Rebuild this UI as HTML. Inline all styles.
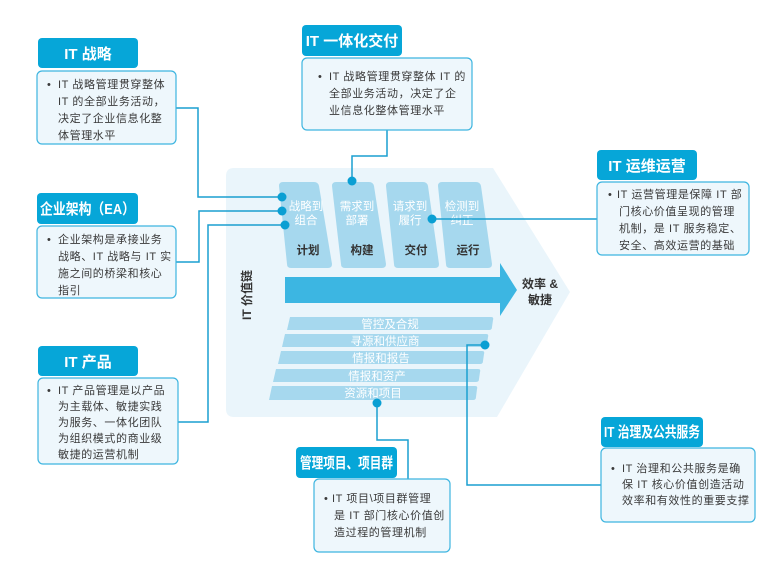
<!DOCTYPE html>
<html><head><meta charset="utf-8"><style>
body{margin:0;background:#fff;}
svg{display:block;}
text{font-family:"Liberation Sans","Noto Sans CJK SC",sans-serif;}
.h{fill:#fff;font-weight:bold;font-size:15px;}
.b{fill:#3a3a3a;font-size:11px;letter-spacing:0.6px;}
.ln{fill:none;stroke:#1a9fd0;stroke-width:1.5;}
.hd{fill:#06a6d8;}
.bd{fill:#eef7fc;stroke:#3db5e0;stroke-width:1.2;}
.col{fill:#a6d8ee;}
.cw{fill:#fff;font-size:11.5px;}
.cd{fill:#333;font-size:11.5px;font-weight:bold;}
.rw{fill:#fff;font-size:11.5px;}
</style></head><body>
<svg width="778" height="576" viewBox="0 0 778 576" xmlns="http://www.w3.org/2000/svg">
<path d="M234 168 H493 L570 292 L497 417 H234 Q226 417 226 409 V176 Q226 168 234 168 Z" fill="#eaf5fb"/>
<g class="col">
<path d="M283 182 H314 Q318 182 319 186 L332 264 Q332 268 328 268 H291 Q287 268 287 264 L279 186 Q279 182 283 182Z"/>
<path d="M336 182 H369 Q373 182 374 186 L386 264 Q386 268 382 268 H345 Q341 268 341 264 L332 186 Q332 182 336 182Z"/>
<path d="M390 182 H423 Q427 182 428 186 L439 264 Q439 268 435 268 H398 Q394 268 394 264 L386 186 Q386 182 390 182Z"/>
<path d="M442 182 H476 Q480 182 481 186 L492 264 Q492 268 488 268 H450 Q446 268 446 264 L438 186 Q438 182 442 182Z"/>
</g>
<text class="cw" x="306" y="210" text-anchor="middle">战略到</text><text class="cw" x="306" y="224" text-anchor="middle">组合</text>
<text class="cw" x="357" y="210" text-anchor="middle">需求到</text><text class="cw" x="357" y="224" text-anchor="middle">部署</text>
<text class="cw" x="410" y="210" text-anchor="middle">请求到</text><text class="cw" x="410" y="224" text-anchor="middle">履行</text>
<text class="cw" x="462" y="210" text-anchor="middle">检测到</text><text class="cw" x="462" y="224" text-anchor="middle">纠正</text>
<text class="cd" x="308" y="254" text-anchor="middle">计划</text>
<text class="cd" x="362" y="254" text-anchor="middle">构建</text>
<text class="cd" x="416" y="254" text-anchor="middle">交付</text>
<text class="cd" x="468" y="254" text-anchor="middle">运行</text>
<path d="M285 277 H500 V263 L517 290 L500 316 V303 H285 Z" fill="#3cb6e2"/>
<text x="540" y="288" text-anchor="middle" font-size="12" font-weight="bold" fill="#333">效率 &amp;</text>
<text x="540" y="304" text-anchor="middle" font-size="12" font-weight="bold" fill="#333">敏捷</text>
<text x="0" y="0" font-size="12" font-weight="bold" fill="#333" transform="translate(251,320) rotate(-90)">IT 价值链</text>
<g fill="#a6d8ee">
<path d="M290 317 H491 Q494 317 493 320 L492 327 Q492 330 489 330 H287 Z"/>
<path d="M285 334 H486 Q489 334 488 337 L487 344 Q487 347 484 347 H282 Z"/>
<path d="M281 351 H482 Q485 351 484 354 L483 361 Q483 364 480 364 H278 Z"/>
<path d="M276 369 H478 Q481 369 480 372 L479 379 Q479 382 476 382 H273 Z"/>
<path d="M272 386 H475 Q478 386 477 389 L476 397 Q476 400 473 400 H269 Z"/>
</g>
<text class="rw" x="390" y="328" text-anchor="middle">管控及合规</text>
<text class="rw" x="385" y="345" text-anchor="middle">寻源和供应商</text>
<text class="rw" x="381" y="362" text-anchor="middle">情报和报告</text>
<text class="rw" x="377" y="380" text-anchor="middle">情报和资产</text>
<text class="rw" x="373" y="397" text-anchor="middle">资源和项目</text>
<path class="ln" d="M176 108 H198 V197 H282"/>
<path class="ln" d="M176 262 H199 V211 H282"/>
<path class="ln" d="M178 422 H208 V225 H285"/>
<path class="ln" d="M387 130 V156 H352 V181"/>
<path class="ln" d="M432 219 H597"/>
<path class="ln" d="M377 403 V440 H408 V479"/>
<path class="ln" d="M485 345 H467 V485 H601"/>
<g fill="#0a9fd3">
<circle cx="282" cy="197" r="4.5"/><circle cx="282" cy="211" r="4.5"/><circle cx="285" cy="225" r="4.5"/>
<circle cx="352" cy="181" r="4.5"/><circle cx="432" cy="219" r="4.5"/><circle cx="377" cy="403" r="4.5"/><circle cx="485" cy="345" r="4.5"/>
</g>
<rect class="hd" x="38" y="38" width="100" height="30" rx="4"/>
<text class="h" x="88" y="59" text-anchor="middle">IT 战略</text>
<rect class="bd" x="37" y="71" width="139" height="73" rx="5"/>
<text class="b"><tspan x="47" y="88">•</tspan><tspan x="58" y="88">IT 战略管理贯穿整体</tspan><tspan x="58" y="105">IT 的全部业务活动，</tspan><tspan x="58" y="122">决定了企业信息化整</tspan><tspan x="58" y="139">体管理水平</tspan></text>
<rect class="hd" x="37" y="193" width="101" height="31" rx="4"/>
<text class="h" x="40" y="214" textLength="95" lengthAdjust="spacingAndGlyphs">企业架构（EA）</text>
<rect class="bd" x="37" y="226" width="139" height="72" rx="5"/>
<text class="b"><tspan x="47" y="243">•</tspan><tspan x="58" y="243">企业架构是承接业务</tspan><tspan x="58" y="260">战略、IT 战略与 IT 实</tspan><tspan x="58" y="277">施之间的桥梁和核心</tspan><tspan x="58" y="294">指引</tspan></text>
<rect class="hd" x="38" y="346" width="100" height="30" rx="4"/>
<text class="h" x="88" y="367" text-anchor="middle">IT 产品</text>
<rect class="bd" x="38" y="378" width="140" height="86" rx="5"/>
<text class="b"><tspan x="47" y="394">•</tspan><tspan x="58" y="394">IT 产品管理是以产品</tspan><tspan x="58" y="410">为主载体、敏捷实践</tspan><tspan x="58" y="426">为服务、一体化团队</tspan><tspan x="58" y="442">为组织模式的商业级</tspan><tspan x="58" y="458">敏捷的运营机制</tspan></text>
<rect class="hd" x="302" y="25" width="100" height="31" rx="4"/>
<text class="h" x="352" y="46" text-anchor="middle">IT 一体化交付</text>
<rect class="bd" x="302" y="58" width="170" height="72" rx="5"/>
<text class="b"><tspan x="318" y="80">•</tspan><tspan x="329" y="80">IT 战略管理贯穿整体 IT 的</tspan><tspan x="329" y="97">全部业务活动，决定了企</tspan><tspan x="329" y="114">业信息化整体管理水平</tspan></text>
<rect class="hd" x="597" y="150" width="100" height="30" rx="4"/>
<text class="h" x="647" y="171" text-anchor="middle">IT 运维运营</text>
<rect class="bd" x="597" y="182" width="152" height="73" rx="5"/>
<text class="b"><tspan x="608" y="198">•</tspan><tspan x="617" y="198">IT 运营管理是保障 IT 部</tspan><tspan x="619" y="215">门核心价值呈现的管理</tspan><tspan x="619" y="232">机制，是 IT 服务稳定、</tspan><tspan x="619" y="249">安全、高效运营的基础</tspan></text>
<rect class="hd" x="296" y="447" width="101" height="31" rx="4"/>
<text class="h" x="300" y="468" textLength="93" lengthAdjust="spacingAndGlyphs" font-size="14">管理项目、项目群</text>
<rect class="bd" x="314" y="479" width="136" height="73" rx="5"/>
<text class="b"><tspan x="324" y="502">•</tspan><tspan x="332" y="502">IT 项目\项目群管理</tspan><tspan x="334" y="519">是 IT 部门核心价值创</tspan><tspan x="334" y="536">造过程的管理机制</tspan></text>
<rect class="hd" x="601" y="417" width="102" height="30" rx="4"/>
<text class="h" x="604" y="437" textLength="96" lengthAdjust="spacingAndGlyphs" font-size="14">IT 治理及公共服务</text>
<rect class="bd" x="601" y="448" width="154" height="74" rx="5"/>
<text class="b"><tspan x="611" y="472">•</tspan><tspan x="622" y="472">IT 治理和公共服务是确</tspan><tspan x="622" y="488">保 IT 核心价值创造活动</tspan><tspan x="622" y="504">效率和有效性的重要支撑</tspan></text>
</svg>
</body></html>
